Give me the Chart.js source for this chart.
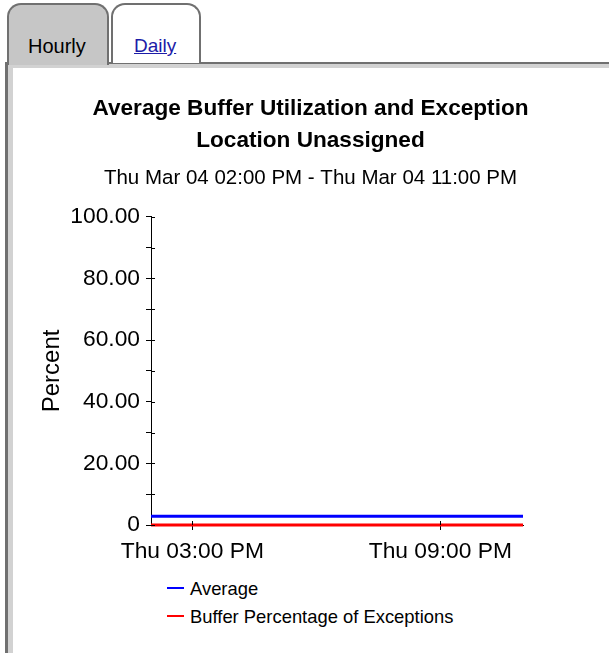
<!DOCTYPE html>
<html>
<head>
<meta charset="utf-8">
<script src="https://cdn.jsdelivr.net/npm/chart.js@4"></script>
<style>
 body { margin: 0; width: 609px; height: 659px; overflow: hidden; background: #fff; position: relative; font-family: Arial, "Liberation Sans", sans-serif; }
 .tab { position: absolute; top: 3px; height: 60px; border: 2px solid #707070; border-bottom: none; border-radius: 14px 14px 0 0; box-sizing: border-box; }
 .tab span { position: absolute; top: 30px; font-size: 19px; }
 #hourly { left: 7px; width: 102px; height: 62px; background: #c6c6c6; z-index: 2; }
 #hourly span { left: 19px; color: #000; font-size: 20px; }
 #daily { left: 111px; width: 90px; background: #fff; }
 #daily span { left: 21px; color: #1c1ca8; text-decoration: underline; }
 .frame { position: absolute; left: 5px; top: 62px; width: 700px; height: 591px; border-left: 3px solid #707070; border-top: 2px solid #707070; background: #d2d2d2; box-sizing: border-box; }
 .inner { position: absolute; left: 5px; top: 4px; right: 0; bottom: 0; background: #fff; }
 .canvas-box { position: absolute; left: 12px; top: 68px; width: 597px; height: 507px; }
 #legend { position: absolute; left: 167px; top: 577px; font-size: 18.4px; }
 #legend div { height: 28px; line-height: 24px; white-space: nowrap; }
 #legend i { display: inline-block; width: 17px; height: 2px; margin-right: 6px; vertical-align: middle; position: relative; top: -2px; }
</style>
</head>
<body>
<div class="frame"><div class="inner"></div></div>
<div class="tab" id="hourly"><span>Hourly</span></div>
<div class="tab" id="daily"><span>Daily</span></div>
<div class="canvas-box"><canvas id="chart"></canvas></div>
<div id="legend"></div>
<script>
// hours of Thu Mar 04, 2 PM .. 11 PM
var hours = [14, 15, 16, 17, 18, 19, 20, 21, 22, 23];
var average = [2.8, 2.8, 2.8, 2.8, 2.8, 2.8, 2.8, 2.8, 2.8, 2.8];
var exceptions = [0, 0, 0, 0, 0, 0, 0, 0, 0, 0];
var xTickValues = [15, 21];
var xTickLabels = ["Thu 03:00 PM", "Thu 09:00 PM"];
var seriesNames = ["Average", "Buffer Percentage of Exceptions"];
var seriesColors = ["#0000ff", "#ff0000"];

var FONT = "Arial, 'Liberation Sans'";

function points(values) {
 return hours.map(function (h, i) { return {x: h, y: values[i]}; });
}

// small tick marks on the inside of the axes too
var innerTicks = {
 id: "innerTicks",
 afterDatasetsDraw: function (chart) {
  var ctx = chart.ctx;
  var x = chart.scales.x, y = chart.scales.y;
  ctx.save();
  ctx.strokeStyle = "#000";
  ctx.lineWidth = 1;
  ctx.beginPath();
  y.ticks.forEach(function (t) {
   var py = Math.round(y.getPixelForValue(t.value)) + 0.5;
   ctx.moveTo(x.left, py); ctx.lineTo(x.left + 4, py);
  });
  x.ticks.forEach(function (t) {
   var px = Math.round(x.getPixelForValue(t.value)) + 0.5;
   ctx.moveTo(px, y.bottom); ctx.lineTo(px, y.bottom - 4);
  });
  ctx.stroke();
  ctx.restore();
 }
};

var chart = new Chart(document.getElementById("chart"), {
 type: "line",
 data: {
  datasets: [
   { label: seriesNames[0], data: points(average), borderColor: seriesColors[0], backgroundColor: seriesColors[0], borderWidth: 3, pointRadius: 0, clip: false },
   { label: seriesNames[1], data: points(exceptions), borderColor: seriesColors[1], backgroundColor: seriesColors[1], borderWidth: 3, pointRadius: 0, clip: false }
  ]
 },
 plugins: [innerTicks],
 options: {
  responsive: true,
  maintainAspectRatio: false,
  animation: false,
  layout: { padding: { top: 25, left: 0, right: 0, bottom: 0 } },
  plugins: {
   legend: { display: false },
   tooltip: { enabled: false },
   title: {
    display: true,
    text: ["Average Buffer Utilization and Exception", "Location Unassigned"],
    color: "#000",
    font: { family: FONT, size: 22.6, weight: "bold", lineHeight: 1.42 },
    padding: { top: 0, bottom: 0 }
   },
   subtitle: {
    display: true,
    text: "Thu Mar 04 02:00 PM - Thu Mar 04 11:00 PM",
    color: "#000",
    font: { family: FONT, size: 20.5 },
    padding: { top: 9, bottom: 26 }
   }
  },
  scales: {
   x: {
    type: "linear",
    min: 14,
    max: 23,
    afterBuildTicks: function (scale) {
     scale.ticks = xTickValues.map(function (v) { return {value: v}; });
    },
    afterFit: function (scale) { scale.height = 50; },
    ticks: {
     color: "#000",
     font: { family: FONT, size: 22.8 },
     padding: 8,
     maxRotation: 0,
     autoSkip: false,
     callback: function (v) { return xTickLabels[xTickValues.indexOf(v)]; }
    },
    grid: { drawOnChartArea: false, tickLength: 5, color: "#000" },
    border: { color: "#000", width: 1 }
   },
   y: {
    min: 0,
    max: 100,
    afterFit: function (scale) { scale.width = 139; },
    ticks: {
     stepSize: 10,
     color: "#000",
     font: { family: FONT, size: 22.8 },
     padding: 6,
     autoSkip: false,
     callback: function (v) {
      if (v % 20 !== 0) return "";
      return v === 0 ? "0" : v.toFixed(2);
     }
    },
    title: {
     display: true,
     text: "Percent",
     color: "#000",
     font: { family: FONT, size: 24 },
     padding: { top: 26, bottom: 0 }
    },
    grid: { drawOnChartArea: false, tickLength: 5, color: "#000" },
    border: { color: "#000", width: 1 }
   },
   // empty right-hand space, keeps the title centred on the whole panel
   spacer: {
    position: "right",
    min: 0,
    max: 1,
    afterFit: function (scale) { scale.width = 86; },
    ticks: { display: false },
    grid: { display: false, drawTicks: false },
    border: { display: false }
   }
  }
 }
});

var legend = document.getElementById("legend");
chart.data.datasets.forEach(function (ds) {
 var row = document.createElement("div");
 var mark = document.createElement("i");
 mark.style.background = ds.borderColor;
 row.appendChild(mark);
 row.appendChild(document.createTextNode(ds.label));
 legend.appendChild(row);
});
</script>
</body>
</html>
